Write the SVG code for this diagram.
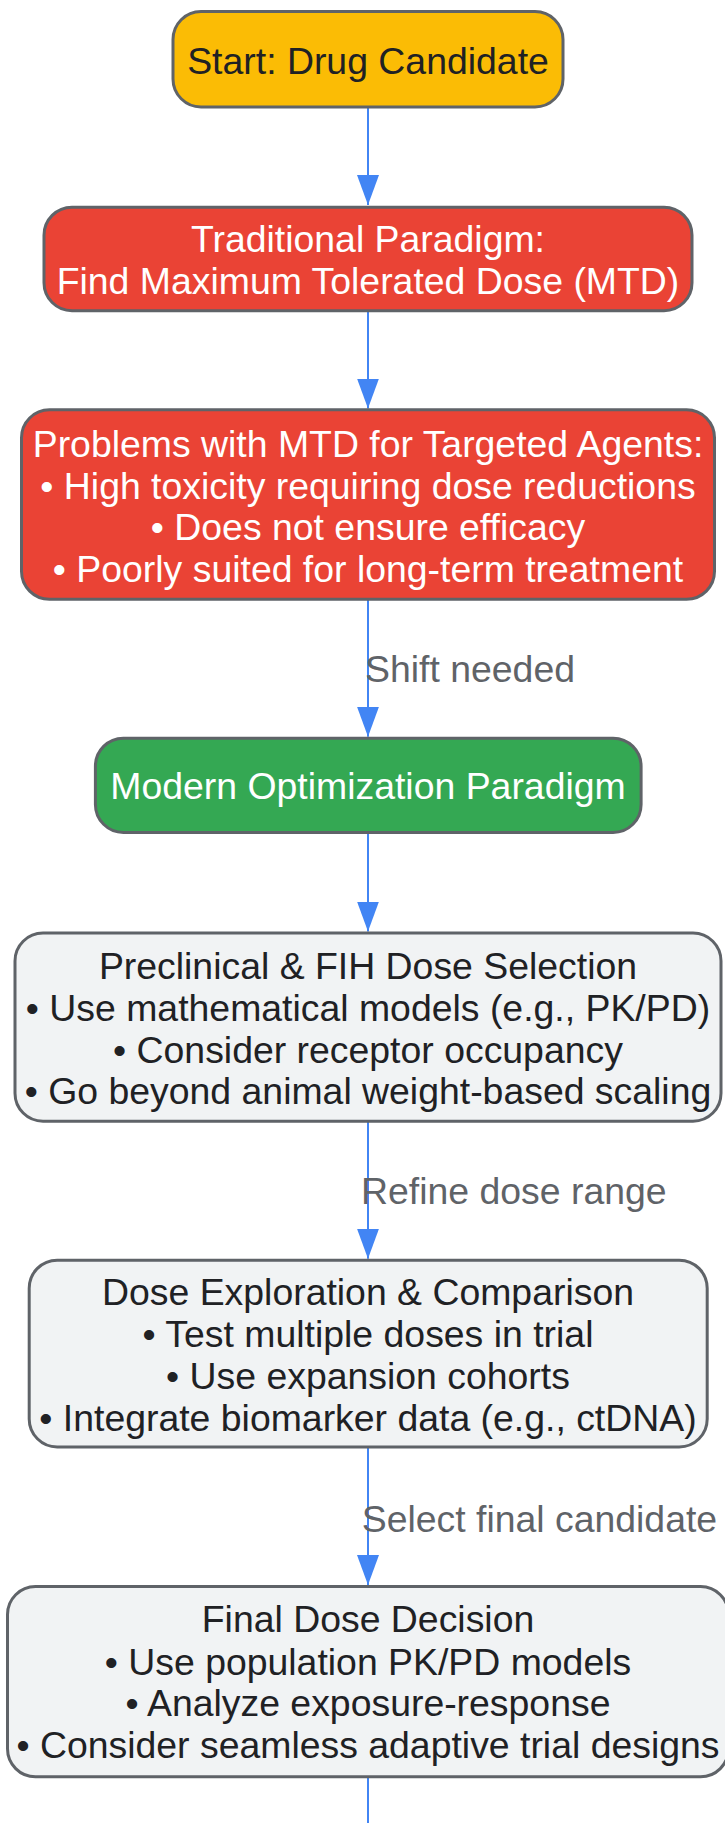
<svg xmlns="http://www.w3.org/2000/svg" width="725" height="1823" viewBox="0 0 725 1823">
<defs>
<style>
.box{stroke:#5F6368;stroke-width:3}
.start{fill:#FBBC05}
.red{fill:#EA4335}
.green{fill:#34A853}
.grey{fill:#F1F3F4}
text{font-family:"Liberation Sans",Arial,sans-serif;font-size:37.4px;text-anchor:middle}
.dark{fill:#202124}
.light{fill:#FFFFFF}
.elabel{fill:#5F6368;text-anchor:start}
.edge{stroke:#4285F4;stroke-width:2;fill:none}
</style>
<marker id="arrow" viewBox="0 0 30 22" refX="30" refY="11" markerWidth="30" markerHeight="22" markerUnits="userSpaceOnUse" orient="auto">
<path d="M0,0 L30,11 L0,22 z" fill="#4285F4"/>
</marker>
</defs>
<rect width="725" height="1823" fill="#FFFFFF"/>
<g id="connectors">
<line class="edge" x1="368" y1="108" x2="368" y2="205" marker-end="url(#arrow)"/>
<line class="edge" x1="368" y1="312" x2="368" y2="408.5" marker-end="url(#arrow)"/>
<line class="edge" x1="368" y1="600" x2="368" y2="736.7" marker-end="url(#arrow)"/>
<line class="edge" x1="368" y1="834" x2="368" y2="931.5" marker-end="url(#arrow)"/>
<line class="edge" x1="368" y1="1122" x2="368" y2="1258.7" marker-end="url(#arrow)"/>
<line class="edge" x1="368" y1="1448" x2="368" y2="1585" marker-end="url(#arrow)"/>
<line class="edge" x1="368" y1="1778" x2="368" y2="1823"/>
<text class="elabel" x="365" y="682.3">Shift needed</text>
<text class="elabel" x="361" y="1204">Refine dose range</text>
<text class="elabel" x="361.7" y="1531.7">Select final candidate</text>
</g>
<g id="start">
<rect class="box start" x="173" y="11.5" width="390" height="95.5" rx="28"/>
<text class="dark" x="368" y="74">Start: Drug Candidate</text>
</g>
<g id="traditional">
<rect class="box red" x="44" y="207.2" width="648" height="103.5" rx="28"/>
<text class="light" x="368" y="252">Traditional Paradigm:</text>
<text class="light" x="368" y="294.3">Find Maximum Tolerated Dose (MTD)</text>
</g>
<g id="problems">
<rect class="box red" x="21.5" y="409.8" width="693" height="189.5" rx="28"/>
<text class="light" x="368" y="456.8">Problems with MTD for Targeted Agents:</text>
<text class="light" x="368" y="498.6">• High toxicity requiring dose reductions</text>
<text class="light" x="368" y="540.4">• Does not ensure efficacy</text>
<text class="light" x="368" y="582.2">• Poorly suited for long-term treatment</text>
</g>
<g id="modern">
<rect class="box green" x="95.4" y="738.2" width="545.7" height="94.3" rx="28"/>
<text class="light" x="368" y="799">Modern Optimization Paradigm</text>
</g>
<g id="preclinical">
<rect class="box grey" x="15" y="933" width="706" height="188.2" rx="28"/>
<text class="dark" x="368" y="979">Preclinical &amp; FIH Dose Selection</text>
<text class="dark" x="368" y="1020.8">• Use mathematical models (e.g., PK/PD)</text>
<text class="dark" x="368" y="1062.6">• Consider receptor occupancy</text>
<text class="dark" x="368" y="1104.4">• Go beyond animal weight-based scaling</text>
</g>
<g id="exploration">
<rect class="box grey" x="29.2" y="1260.2" width="678" height="186.8" rx="28"/>
<text class="dark" x="368" y="1305.2">Dose Exploration &amp; Comparison</text>
<text class="dark" x="368" y="1347">• Test multiple doses in trial</text>
<text class="dark" x="368" y="1388.8">• Use expansion cohorts</text>
<text class="dark" x="368" y="1430.6">• Integrate biomarker data (e.g., ctDNA)</text>
</g>
<g id="final">
<rect class="box grey" x="7.5" y="1586.5" width="721" height="190.3" rx="28"/>
<text class="dark" x="368" y="1632">Final Dose Decision</text>
<text class="dark" x="368" y="1674.5">• Use population PK/PD models</text>
<text class="dark" x="368" y="1716.3">• Analyze exposure-response</text>
<text class="dark" x="368" y="1758">• Consider seamless adaptive trial designs</text>
</g>
</svg>
